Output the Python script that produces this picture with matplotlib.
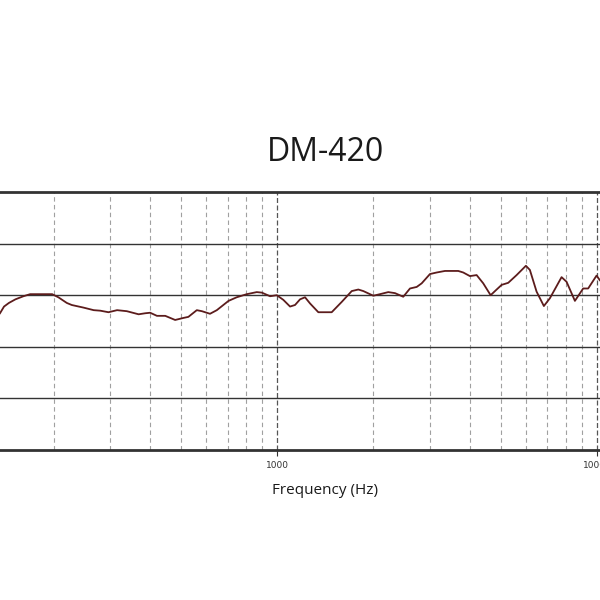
import matplotlib
matplotlib.use("Agg")
import matplotlib.pyplot as plt
from matplotlib.ticker import FixedLocator, NullFormatter, FixedFormatter

freq_hz = [136, 140, 145, 152, 161, 169, 198, 207, 220, 228, 248, 267, 280, 297,
           316, 339, 369, 387, 401, 421, 447, 480, 510, 528, 561, 582, 617, 648,
           705, 748, 804, 864, 896, 951, 998, 1046, 1098, 1138, 1180, 1223, 1268,
           1346, 1482, 1593, 1712, 1795, 1861, 2000, 2098, 2227, 2338, 2481, 2604,
           2733, 2833, 3007, 3156, 3350, 3472, 3686, 3821, 4010, 4208, 4413, 4654,
           4860, 5038, 5283, 5612, 6000, 6174, 6479, 6829, 7130, 7757, 8041, 8539,
           9062, 9393, 9979, 10220]
level_db = [26.5, 27.8, 28.5, 29.2, 29.8, 30.2, 30.2, 29.6, 28.5, 28.1, 27.6, 27.1,
            27.0, 26.7, 27.1, 26.9, 26.3, 26.5, 26.6, 26.0, 26.0, 25.2, 25.6, 25.8,
            27.1, 26.9, 26.4, 27.1, 28.9, 29.6, 30.2, 30.6, 30.5, 29.8, 30.0, 29.1,
            27.8, 28.1, 29.2, 29.6, 28.4, 26.7, 26.7, 28.7, 30.8, 31.1, 30.8, 29.9,
            30.2, 30.6, 30.4, 29.7, 31.3, 31.6, 32.3, 34.1, 34.4, 34.7, 34.7, 34.7,
            34.4, 33.7, 33.9, 32.3, 30.0, 31.1, 32.0, 32.4, 33.9, 35.7, 34.9, 30.7,
            27.9, 29.4, 33.5, 32.6, 28.9, 31.3, 31.3, 33.8, 32.9]
major_ticks = [1000, 10000]
major_labels = ["1000", "10000"]
minor_ticks = [200, 300, 400, 500, 600, 700, 800, 900,
               2000, 3000, 4000, 5000, 6000, 7000, 8000, 9000]
y_grid = [10, 20, 30, 40]

fig = plt.figure(figsize=(6, 6), dpi=100)
ax = fig.add_axes([0.0, 0.25, 1.0, 0.43])
ax.set_xscale("log")
ax.set_xlim(136, 10230)
ax.set_ylim(0, 50)

for f in minor_ticks:
    ax.axvline(f, color="#a0a0a0", lw=0.8, ls=(0, (4, 3)), zorder=1)
for f in major_ticks:
    ax.axvline(f, color="#555555", lw=0.9, ls=(0, (4, 2)), zorder=1)
for y in y_grid:
    ax.axhline(y, color="#333333", lw=1.0, zorder=1)

ax.plot(freq_hz, level_db, color="#5c1c1c", lw=1.3, zorder=3,
        solid_joinstyle="round")

for s in ["left", "right"]:
    ax.spines[s].set_visible(False)
for s in ["top", "bottom"]:
    ax.spines[s].set_linewidth(2.0)
    ax.spines[s].set_color("#333333")

ax.xaxis.set_major_locator(FixedLocator(major_ticks))
ax.xaxis.set_major_formatter(FixedFormatter(major_labels))
ax.xaxis.set_minor_locator(FixedLocator([]))
ax.xaxis.set_minor_formatter(NullFormatter())
ax.tick_params(axis="x", which="major", length=4, width=0.8, color="#333333",
               labelsize=6.5, pad=4, labelcolor="#333333")
ax.set_yticks([])

fig.text(325 / 600, 1 - 152 / 600, "DM-420", ha="center", va="center",
         fontsize=23, family="Open Sans", color="#1a1a1a")
fig.text(325 / 600, 1 - 490 / 600, "Frequency (Hz)", ha="center", va="center",
         fontsize=11, family="Open Sans", color="#1a1a1a")

fig.savefig("out.png", dpi=100)
